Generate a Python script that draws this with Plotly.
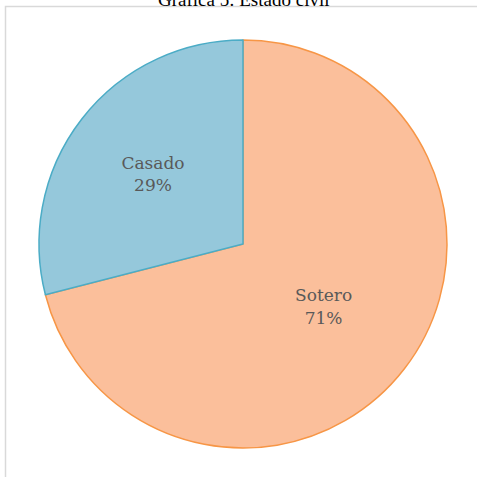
import plotly.graph_objects as go

labels = ["Sotero", "Casado"]
values = [71, 29]
fill_colors = ["#FBBF9B", "#95C8DB"]
line_colors = ["#F79646", "#4BACC6"]
title_text = "Gráfica 5: Estado civil"

W = H = 477
fig = go.Figure()
fig.add_trace(go.Pie(
    labels=labels, values=values, sort=False, direction="clockwise", rotation=0,
    marker=dict(colors=fill_colors, line=dict(color=line_colors, width=1.5)),
    textinfo="label+percent", textposition="inside", insidetextorientation="horizontal",
    texttemplate="%{label}<br>%{percent:.0%}",
    textfont=dict(family="DejaVu Serif", size=17, color="#595959"),
    domain=dict(x=[39/W, 447/W], y=[29/H, 437/H]),
    showlegend=False, hoverinfo="skip",
))
fig.add_shape(type="rect", xref="paper", yref="paper",
              x0=5.5/W, x1=1.05, y0=-0.05, y1=(H-6.5)/H,
              line=dict(color="#D9D9D9", width=1.5), fillcolor="rgba(0,0,0,0)")
fig.add_annotation(text=title_text, xref="paper", yref="paper", x=243/W, y=(H+1)/H,
                   xanchor="center", yanchor="middle", showarrow=False,
                   font=dict(family="Liberation Serif", size=19, color="#000000"))
fig.update_layout(width=W, height=H, margin=dict(l=0, r=0, t=0, b=0),
                  paper_bgcolor="white", plot_bgcolor="white")
fig.write_html("out.html", config={"displayModeBar": False},
               post_script="document.body.style.margin='0';")
